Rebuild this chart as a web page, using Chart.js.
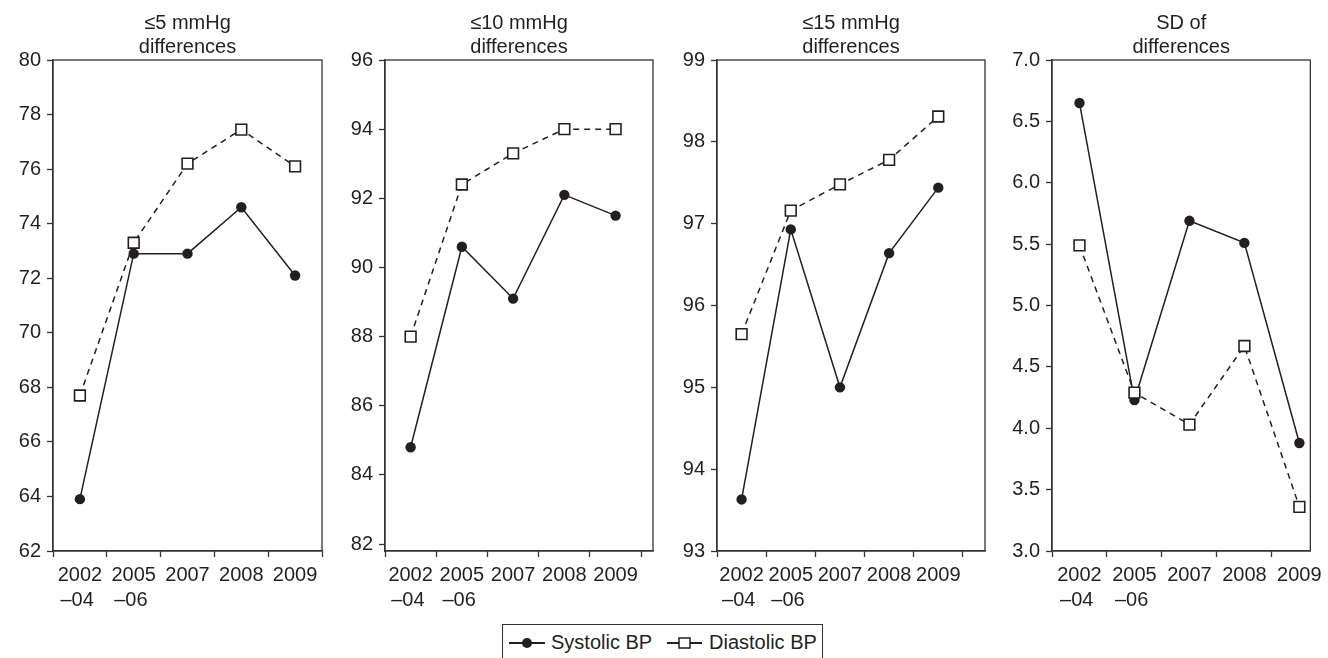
<!DOCTYPE html>
<html>
<head>
<meta charset="utf-8">
<script src="https://cdn.jsdelivr.net/npm/chart.js@4"></script>
<style>
html,body{margin:0;padding:0;background:#fff;}
body{width:1328px;height:658px;position:relative;overflow:hidden;font-family:"Liberation Sans",Arial,sans-serif;color:#231f20;}
canvas.panel{position:absolute;top:0;}
#legend{position:absolute;left:502px;top:624px;width:321px;height:50px;border:1px solid #333;box-sizing:border-box;}
#legend svg{position:absolute;top:10px;}
#legend span{position:absolute;top:5px;font-size:20px;line-height:24px;white-space:nowrap;}
</style>
</head>
<body>
<canvas id="c0" class="panel" width="332" height="613" style="left:0px"></canvas>
<canvas id="c1" class="panel" width="332" height="613" style="left:332px"></canvas>
<canvas id="c2" class="panel" width="332" height="613" style="left:664px"></canvas>
<canvas id="c3" class="panel" width="332" height="613" style="left:996px"></canvas>
<div id="legend">
  <svg style="left:6px" width="36" height="16"><line x1="0" y1="8" x2="36" y2="8" stroke="#231f20" stroke-width="2"/><circle cx="18" cy="8" r="5" fill="#231f20"/></svg>
  <span style="left:48px">Systolic BP</span>
  <svg style="left:164px" width="35" height="16"><line x1="0" y1="8" x2="35" y2="8" stroke="#231f20" stroke-width="2"/><rect x="12" y="3" width="11" height="10" fill="#fff" stroke="#231f20" stroke-width="1.5"/></svg>
  <span style="left:206px">Diastolic BP</span>
</div>
<script>
// ---- data ----
const categories = ['2002–04', '2005–06', '2007', '2008', '2009'];
const seriesNames = ['Systolic BP', 'Diastolic BP'];
const panelTitles = [['≤5 mmHg', 'differences'], ['≤10 mmHg', 'differences'], ['≤15 mmHg', 'differences'], ['SD of', 'differences']];

const systolic5 = [63.9, 72.9, 72.9, 74.6, 72.1];
const diastolic5 = [67.7, 73.3, 76.2, 77.45, 76.1];
const systolic10 = [84.8, 90.6, 89.1, 92.1, 91.5];
const diastolic10 = [88.0, 92.4, 93.3, 94.0, 94.0];
const systolic15 = [93.63, 96.93, 95.0, 96.64, 97.44];
const diastolic15 = [95.65, 97.16, 97.48, 97.78, 98.31];
const systolicSD = [6.65, 4.23, 5.69, 5.51, 3.88];
const diastolicSD = [5.49, 4.29, 4.03, 4.67, 3.36];

const yTicks5 = [62, 64, 66, 68, 70, 72, 74, 76, 78, 80];
const yTicks10 = [82, 84, 86, 88, 90, 92, 94, 96];
const yTicks15 = [93, 94, 95, 96, 97, 98, 99];
const yTicksSD = [3.0, 3.5, 4.0, 4.5, 5.0, 5.5, 6.0, 6.5, 7.0];

// ---- panel setup (layout, not data) ----
const panels = [
  {id: 'c0', sys: systolic5, dia: diastolic5, yTicks: yTicks5, yMin: 62, yMax: 80, dec: 0, xMax: 4.5, padL: 8, yW: 45, padR: 10},
  {id: 'c1', sys: systolic10, dia: diastolic10, yTicks: yTicks10, yMin: 81.8, yMax: 96, dec: 0, xMax: 4.73, padL: 8, yW: 45, padR: 11},
  {id: 'c2', sys: systolic15, dia: diastolic15, yTicks: yTicks15, yMin: 93, yMax: 99, dec: 0, xMax: 4.95, padL: 8, yW: 45, padR: 11},
  {id: 'c3', sys: systolicSD, dia: diastolicSD, yTicks: yTicksSD, yMin: 3.0, yMax: 7.0, dec: 1, xMax: 4.2, padL: 8, yW: 48, padR: 7}
];

const INK = '#231f20';
const AXIS = '#333333';
const FONT = {family: '"Liberation Sans", Arial, sans-serif', size: 20, lineHeight: 1.25};

function xLabel(i) {
  const c = categories[i];
  const k = c.indexOf('–');
  return k > 0 ? [c.slice(0, k), c.slice(k) + ' '] : c;
}

const boxPlugin = {
  id: 'plotBox',
  afterLayout(chart) {
    const t = chart.titleBlock, a = chart.chartArea;
    if (t) {
      const d = (a.left + a.right) / 2 - (t.left + t.right) / 2;
      t.left += d; t.right += d;
    }
  },
  beforeDatasetsDraw(chart) {
    const {ctx, chartArea: a} = chart;
    ctx.save();
    ctx.strokeStyle = AXIS;
    ctx.lineWidth = 1.3;
    ctx.strokeRect(a.left, a.top, a.right - a.left, a.bottom - a.top);
    ctx.restore();
  }
};

panels.forEach((p, pi) => {
  const xTickVals = [];
  for (let v = -0.5; v <= p.xMax + 1e-9; v += 0.5) xTickVals.push(v);
  new Chart(document.getElementById(p.id), {
    type: 'line',
    data: {
      datasets: [
        {
          label: seriesNames[0],
          data: p.sys.map((v, i) => ({x: i, y: v})),
          borderColor: INK, borderWidth: 1.5,
          pointStyle: 'circle', pointRadius: 5.2, pointBackgroundColor: INK, pointBorderColor: INK, pointBorderWidth: 0,
          tension: 0, order: 2
        },
        {
          label: seriesNames[1],
          data: p.dia.map((v, i) => ({x: i, y: v})),
          borderColor: INK, borderWidth: 1.5, borderDash: [6, 5],
          pointStyle: 'rect', pointRadius: 7.6, pointBackgroundColor: '#ffffff', pointBorderColor: INK, pointBorderWidth: 1.6,
          tension: 0, order: 1
        }
      ]
    },
    options: {
      responsive: false,
      animation: false,
      events: [],
      layout: {padding: {left: p.padL, right: p.padR, top: 0, bottom: 0}},
      plugins: {
        legend: {display: false},
        tooltip: {enabled: false},
        title: {
          display: true,
          text: panelTitles[pi],
          color: INK,
          font: {family: FONT.family, size: 20, weight: 'normal', lineHeight: 24 / 20},
          padding: {top: 11, bottom: 1}
        }
      },
      scales: {
        x: {
          type: 'linear',
          min: -0.5,
          max: p.xMax,
          afterBuildTicks(scale) { scale.ticks = xTickVals.map(v => ({value: v})); },
          afterFit(scale) { scale.height = 62; },
          grid: {
            drawOnChartArea: false,
            drawTicks: true,
            tickLength: 6,
            tickWidth: 1.3,
            tickColor: ctx => (ctx.tick && Number.isInteger(ctx.tick.value)) ? 'rgba(0,0,0,0)' : AXIS
          },
          border: {display: true, color: AXIS, width: 1.3},
          ticks: {
            autoSkip: false,
            maxRotation: 0,
            minRotation: 0,
            padding: 6,
            color: INK,
            font: FONT,
            callback: v => Number.isInteger(v) && v >= 0 && v < categories.length ? xLabel(v) : ''
          }
        },
        y: {
          type: 'linear',
          min: p.yMin,
          max: p.yMax,
          afterBuildTicks(scale) { scale.ticks = p.yTicks.map(v => ({value: v})); },
          afterFit(scale) { scale.width = p.yW; },
          grid: {drawOnChartArea: false, drawTicks: true, tickLength: 6, tickWidth: 1.3, tickColor: AXIS},
          border: {display: true, color: AXIS, width: 1.3},
          ticks: {
            padding: 6,
            color: INK,
            font: FONT,
            callback: v => v.toFixed(p.dec)
          }
        }
      }
    },
    plugins: [boxPlugin]
  });
});
</script>
</body>
</html>
